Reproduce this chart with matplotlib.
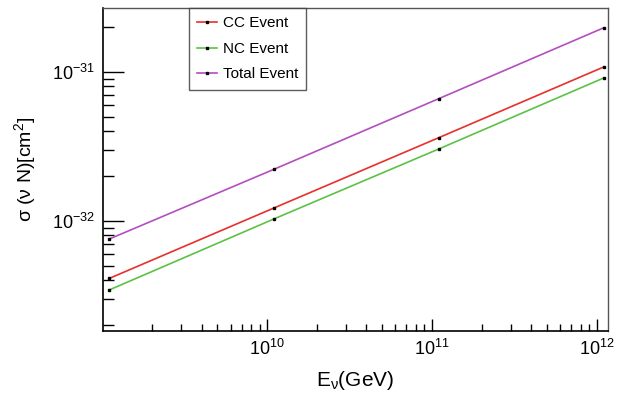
import matplotlib
matplotlib.use("Agg")
import matplotlib.pyplot as plt

plt.rcParams['font.family'] = ['Liberation Sans', 'DejaVu Sans']
plt.rcParams['mathtext.fontset'] = 'custom'
plt.rcParams['mathtext.rm'] = 'Liberation Sans'
plt.rcParams['mathtext.it'] = 'Liberation Sans'

# neutrino energy (GeV) and cross sections (cm^2)
energy = [1.1e9, 1.1e10, 1.1e11, 1.1e12]
cc_xsec = [4.10e-33, 1.22e-32, 3.62e-32, 1.08e-31]
nc_xsec = [3.43e-33, 1.03e-32, 3.04e-32, 9.11e-32]
total_xsec = [7.54e-33, 2.22e-32, 6.62e-32, 1.98e-31]

series = [
    ('CC Event', cc_xsec, '#e8302a'),
    ('NC Event', nc_xsec, '#5cc144'),
    ('Total Event', total_xsec, '#b44ec0'),
]

fig = plt.figure(figsize=(6.28, 4.0), dpi=100)
ax = fig.add_axes([103 / 628, 69 / 400, 505 / 628, 323 / 400])

for name, vals, col in series:
    ax.plot(energy, vals, color=col, lw=1.2, marker='s', ms=1.8,
            mfc='black', mec='black', label=name)

ax.set_xscale('log')
ax.set_yscale('log')
ax.set_xticks([1e10, 1e11, 1e12])
ax.set_yticks([1e-32, 1e-31])
ax.set_xlim(1.01e9, 1.17e12)
ax.set_ylim(10 ** -32.74, 10 ** -30.57)

ax.tick_params(which='both', direction='in', top=False, right=False,
               labelsize=13, color='black')
ax.tick_params(axis='y', which='major', length=15, width=1, pad=6)
ax.tick_params(axis='y', which='minor', length=8, width=1)
ax.tick_params(axis='x', which='major', length=9, width=1, pad=6)
ax.tick_params(axis='x', which='minor', length=5, width=1)
ax.xaxis.set_minor_formatter(plt.NullFormatter())
ax.yaxis.set_minor_formatter(plt.NullFormatter())

for side in ['left', 'bottom']:
    ax.spines[side].set_color('black')
    ax.spines[side].set_linewidth(1.2)
for side in ['top', 'right']:
    ax.spines[side].set_color('#555555')
    ax.spines[side].set_linewidth(1.0)

ax.set_xlabel('E$_{\\mathrm{ν}}$(GeV)', fontsize=15, labelpad=7)
ax.set_ylabel('σ (ν N)[cm$^{2}$]', fontsize=14, labelpad=10)

leg = ax.legend(loc='upper left', bbox_to_anchor=((189 - 103) / 505, 1.0),
                fontsize=11, frameon=True, fancybox=False, edgecolor='#333333',
                handlelength=1.25, handletextpad=0.4, borderpad=0.55,
                labelspacing=0.75, borderaxespad=0)
leg.get_frame().set_linewidth(1.0)

fig.savefig('out.png', dpi=100)
